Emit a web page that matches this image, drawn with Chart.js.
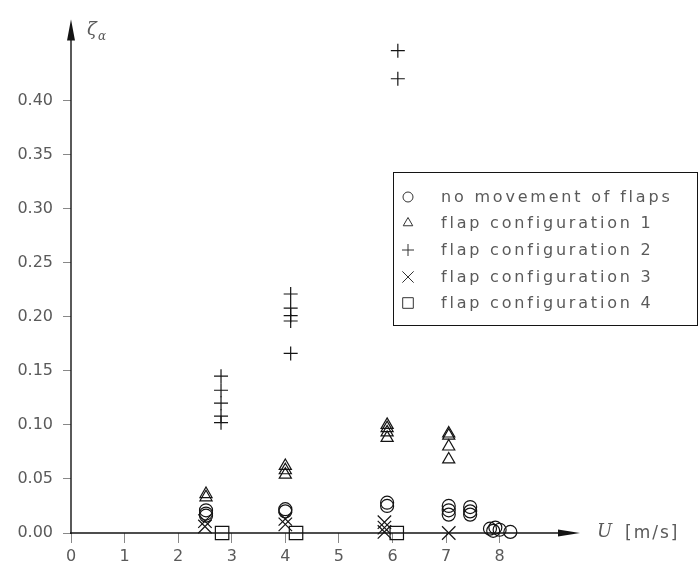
<!DOCTYPE html>
<html>
<head>
<meta charset="utf-8">
<script src="https://cdn.jsdelivr.net/npm/chart.js@4/dist/chart.umd.min.js"></script>
<style>
  html, body { margin: 0; padding: 0; background: #fff; }
  #c { display: block; }
</style>
</head>
<body>
<canvas id="c" width="699" height="566"></canvas>
<script>
// Axis ticks
const uTicks = [0, 1, 2, 3, 4, 5, 6, 7, 8];
const zetaTicks = [0.00, 0.05, 0.10, 0.15, 0.20, 0.25, 0.30, 0.35, 0.40];
const zetaTickLabels = ['0.00', '0.05', '0.10', '0.15', '0.20', '0.25', '0.30', '0.35', '0.40'];

// No movement of flaps (circles)
const noMoveU    = [2.52, 2.52, 2.52, 4.0, 4.0, 5.9, 5.9, 7.05, 7.05, 7.05, 7.45, 7.45, 7.45, 7.82, 7.88, 7.92, 8.0, 8.2];
const noMoveZeta = [0.021, 0.018, 0.016, 0.022, 0.020, 0.028, 0.025, 0.025, 0.021, 0.017, 0.024, 0.020, 0.017, 0.004, 0.002, 0.005, 0.003, 0.001];

// Flap configuration 1 (triangles)
const conf1U    = [2.52, 2.52, 4.0, 4.0, 4.0, 5.9, 5.9, 5.9, 5.9, 7.05, 7.05, 7.05, 7.05];
const conf1Zeta = [0.036, 0.033, 0.062, 0.058, 0.054, 0.100, 0.097, 0.093, 0.088, 0.092, 0.090, 0.080, 0.068];

// Flap configuration 2 (plus)
const conf2U    = [2.8, 2.8, 2.8, 2.8, 2.8, 4.1, 4.1, 4.1, 4.1, 4.1, 6.1, 6.1];
const conf2Zeta = [0.145, 0.132, 0.120, 0.108, 0.102, 0.221, 0.208, 0.201, 0.196, 0.166, 0.446, 0.420];

// Flap configuration 3 (crosses)
const conf3U    = [2.5, 2.5, 4.0, 4.0, 5.85, 5.85, 5.85, 7.05];
const conf3Zeta = [0.011, 0.006, 0.013, 0.008, 0.010, 0.005, 0.001, 0.000];

// Flap configuration 4 (squares)
const conf4U    = [2.82, 4.2, 6.08];
const conf4Zeta = [0.000, 0.000, 0.000];

const seriesNames = ['no movement of flaps', 'flap configuration 1', 'flap configuration 2', 'flap configuration 3', 'flap configuration 4'];

const INK = '#141414';
const TEXT = '#5a5a5a';

function pts(xs, ys) { return xs.map((x, i) => ({ x: x, y: ys[i] })); }

function series(label, xs, ys, style, radius) {
  return {
    label: label,
    data: pts(xs, ys),
    pointStyle: style,
    pointRadius: radius,
    pointHoverRadius: radius,
    borderColor: INK,
    backgroundColor: 'rgba(0,0,0,0)',
    pointBorderWidth: 1.2,
    showLine: false,
    clip: false
  };
}

const datasets = [
  series(seriesNames[0], noMoveU, noMoveZeta, 'circle', 6.5),
  series(seriesNames[1], conf1U, conf1Zeta, 'triangle', 7),
  series(seriesNames[2], conf2U, conf2Zeta, 'cross', 7),
  series(seriesNames[3], conf3U, conf3Zeta, 'crossRot', 9.5),
  series(seriesNames[4], conf4U, conf4Zeta, 'rect', 9.5)
];

// Axis lines with arrowheads, axis titles and the boxed legend
const decorations = {
  id: 'decorations',
  afterDraw(chart) {
    const ctx = chart.ctx;
    const xs = chart.scales.x, ys = chart.scales.y;
    const x0 = xs.getPixelForValue(0), y0 = ys.getPixelForValue(0);
    const xEnd = chart.chartArea.right, yEnd = chart.chartArea.top;
    ctx.save();
    ctx.strokeStyle = INK;
    ctx.fillStyle = INK;
    ctx.lineWidth = 1.4;
    ctx.beginPath();
    ctx.moveTo(x0, y0 + 1); ctx.lineTo(x0, yEnd + 10);
    ctx.moveTo(x0 - 1, y0); ctx.lineTo(xEnd - 10, y0);
    ctx.stroke();
    // arrowheads
    ctx.beginPath();
    ctx.moveTo(xEnd, y0); ctx.lineTo(xEnd - 22, y0 - 3.5); ctx.lineTo(xEnd - 22, y0 + 3.5); ctx.closePath();
    ctx.fill();
    ctx.beginPath();
    ctx.moveTo(x0, yEnd); ctx.lineTo(x0 - 4, yEnd + 21); ctx.lineTo(x0 + 4, yEnd + 21); ctx.closePath();
    ctx.fill();

    // axis titles
    ctx.fillStyle = TEXT;
    ctx.textBaseline = 'alphabetic';
    ctx.textAlign = 'left';
    ctx.font = 'italic 18px "DejaVu Serif"';
    ctx.fillText('U', xEnd + 17, y0 + 4);
    ctx.font = '17px "DejaVu Sans"';
    ctx.letterSpacing = '2px';
    ctx.fillText('[m/s]', xEnd + 45, y0 + 5);
    ctx.letterSpacing = '0px';
    ctx.font = 'italic 18px "DejaVu Serif"';
    ctx.fillText('\u03B6', x0 + 16, yEnd + 15);
    ctx.font = 'italic 12px "DejaVu Serif"';
    ctx.fillText('\u03B1', x0 + 27, yEnd + 20);

    // legend box
    const bx = 393, by = 172, bw = 304, bh = 153;
    ctx.strokeStyle = INK;
    ctx.lineWidth = 1;
    ctx.strokeRect(bx + 0.5, by + 0.5, bw, bh);
    const rowY = [197, 223, 250, 277, 303];
    const styles = ['circle', 'triangle', 'cross', 'crossRot', 'rect'];
    const radii = [5, 5.5, 6, 8, 7.5];
    chart.data.datasets.forEach((ds, i) => {
      ctx.strokeStyle = '#333';
      ctx.fillStyle = 'rgba(0,0,0,0)';
      ctx.lineWidth = 1;
      Chart.helpers.drawPoint(ctx, { pointStyle: styles[i], radius: radii[i], borderWidth: 1, rotation: 0 }, bx + 15, rowY[i]);
      ctx.fillStyle = TEXT;
      ctx.font = '16px "DejaVu Sans"';
      ctx.letterSpacing = '2.8px';
      ctx.textBaseline = 'middle';
      ctx.fillText(ds.label, bx + 48, rowY[i] + 1);
      ctx.letterSpacing = '0px';
    });
    ctx.restore();
  }
};

new Chart(document.getElementById('c'), {
  type: 'scatter',
  data: { datasets: datasets },
  options: {
    responsive: false,
    animation: false,
    events: [],
    layout: { padding: { left: 0, right: 119, top: 7, bottom: 0 } },
    plugins: { legend: { display: false }, tooltip: { enabled: false } },
    scales: {
      x: {
        type: 'linear',
        min: 0, max: 9.5,
        afterBuildTicks(scale) { scale.ticks = uTicks.map(v => ({ value: v })); },
        afterFit(scale) { scale.height = 33; },
        border: { display: false },
        grid: { drawOnChartArea: false, drawTicks: true, tickLength: 10, color: '#888', lineWidth: 1 },
        ticks: { color: TEXT, padding: 4, maxRotation: 0, font: { family: 'DejaVu Sans', size: 16 },
                 callback: v => String(v) }
      },
      y: {
        type: 'linear',
        min: 0, max: 0.4747,
        afterBuildTicks(scale) { scale.ticks = zetaTicks.map(v => ({ value: v })); },
        afterFit(scale) { scale.width = 71; },
        border: { display: false },
        grid: { drawOnChartArea: false, drawTicks: true, tickLength: 8, color: '#888', lineWidth: 1 },
        ticks: { color: TEXT, padding: 10, font: { family: 'DejaVu Sans', size: 16 },
                 callback: v => zetaTickLabels[zetaTicks.findIndex(t => Math.abs(t - v) < 1e-9)] }
      }
    }
  },
  plugins: [decorations]
});
</script>
</body>
</html>
